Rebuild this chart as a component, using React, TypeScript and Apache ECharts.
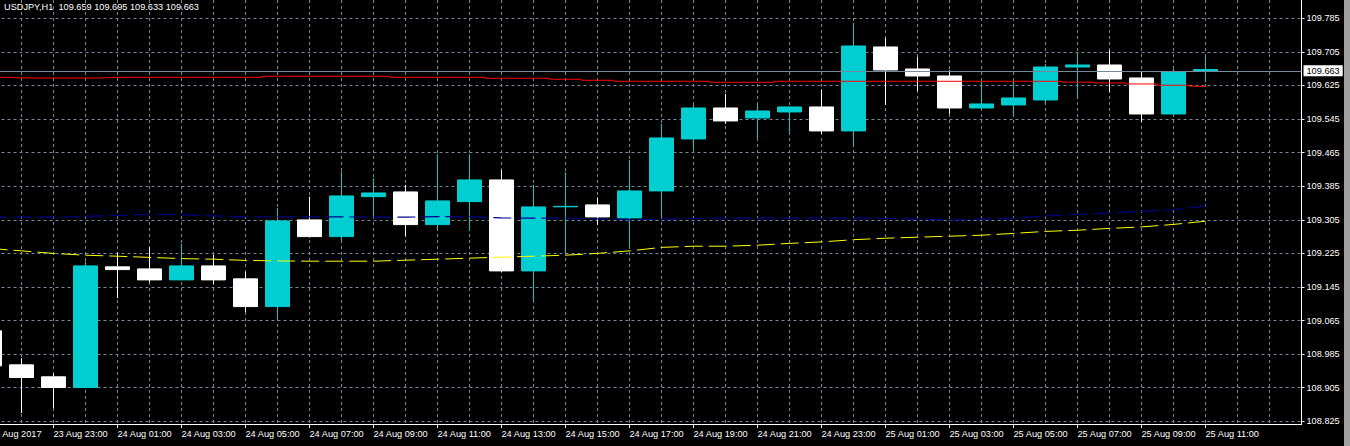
import React, { useEffect, useRef } from 'react';
import * as echarts from 'echarts';

// ---------- data ----------
const timeLabels = [
  '23 Aug 21:00', '23 Aug 22:00', '23 Aug 23:00',
  '24 Aug 00:00', '24 Aug 01:00', '24 Aug 02:00', '24 Aug 03:00', '24 Aug 04:00', '24 Aug 05:00',
  '24 Aug 06:00', '24 Aug 07:00', '24 Aug 08:00', '24 Aug 09:00', '24 Aug 10:00', '24 Aug 11:00',
  '24 Aug 12:00', '24 Aug 13:00', '24 Aug 14:00', '24 Aug 15:00', '24 Aug 16:00', '24 Aug 17:00',
  '24 Aug 18:00', '24 Aug 19:00', '24 Aug 20:00', '24 Aug 21:00', '24 Aug 22:00', '24 Aug 23:00',
  '25 Aug 00:00', '25 Aug 01:00', '25 Aug 02:00', '25 Aug 03:00', '25 Aug 04:00', '25 Aug 05:00',
  '25 Aug 06:00', '25 Aug 07:00', '25 Aug 08:00', '25 Aug 09:00', '25 Aug 10:00', '25 Aug 11:00',
  '25 Aug 12:00', '25 Aug 13:00', '25 Aug 14:00',
];

const opens = [
  109.0405, 108.9595, 108.9310, 108.9055, 109.1929, 109.1881, 109.1619, 109.1952, 109.1643, 109.0983,
  109.3048, 109.2650, 109.3602, 109.3714, 109.2936, 109.3483, 109.4000, 109.1833, 109.3360, 109.3405,
  109.3095, 109.3738, 109.4976, 109.5714, 109.5476, 109.5619, 109.5738, 109.5167, 109.7167, 109.6643,
  109.6476, 109.5714, 109.5786, 109.5905, 109.6690, 109.6738, 109.6429, 109.5571, 109.659,
];
const closes = [
  108.9571, 108.9293, 108.9055, 109.1952, 109.1864, 109.1619, 109.1952, 109.1619, 109.0983, 109.3024,
  109.2650, 109.3619, 109.3690, 109.2936, 109.3500, 109.4000, 109.1833, 109.3357, 109.3370, 109.3119,
  109.3738, 109.5000, 109.5714, 109.5405, 109.5643, 109.5738, 109.5167, 109.7190, 109.6619, 109.6476,
  109.5714, 109.5810, 109.5952, 109.6690, 109.6738, 109.6405, 109.5571, 109.6571, 109.663,
];
const lows = [
  108.9429, 108.8445, 108.8564, 108.9040, 109.1183, 109.1555, 109.1610, 109.1524, 109.0850, 109.0690,
  109.2630, 109.2555, 109.3126, 109.2650, 109.2810, 109.2810, 109.1810, 109.1126, 109.2255, 109.2929,
  109.2412, 109.3126, 109.4714, 109.5333, 109.4976, 109.5143, 109.5095, 109.4840, 109.5786, 109.6119,
  109.5571, 109.5700, 109.5524, 109.5786, 109.5952, 109.6095, 109.5381, 109.5524, 109.633,
];
const highs = [
  109.0619, 108.9755, 108.9381, 109.2055, 109.2269, 109.2398, 109.2476, 109.2214, 109.1810, 109.3326,
  109.3602, 109.4198, 109.4040, 109.3881, 109.4612, 109.4612, 109.4238, 109.3881, 109.4183, 109.3579,
  109.4476, 109.5333, 109.5786, 109.6048, 109.5786, 109.5750, 109.6155, 109.7745, 109.7381, 109.6929,
  109.6612, 109.6340, 109.6340, 109.6762, 109.7024, 109.7095, 109.6595, 109.6667, 109.695,
];

const maRed = [
  109.6445, 109.6429, 109.6429, 109.6429, 109.6445, 109.6445, 109.6445, 109.6445, 109.6445, 109.6469,
  109.6469, 109.6469, 109.6469, 109.6445, 109.6445, 109.6445, 109.6421, 109.6421, 109.6398, 109.6374,
  109.6350, 109.6350, 109.6350, 109.6326, 109.6326, 109.6350, 109.6350, 109.6350, 109.6350, 109.6350,
  109.6350, 109.6350, 109.6350, 109.6350, 109.6329, 109.6310, 109.6286, 109.6255, 109.6231,
];
const maBlue = [
  109.3112, 109.3112, 109.3112, 109.3131, 109.3155, 109.3183, 109.3167, 109.3143, 109.3124, 109.3119,
  109.3119, 109.3119, 109.3112, 109.3112, 109.3126, 109.3126, 109.3095, 109.3088, 109.3088, 109.3071,
  109.3055, 109.3064, 109.3079, 109.3088, 109.3088, 109.3088, 109.3088, 109.3088, 109.3083, 109.3064,
  109.3040, 109.3064, 109.3088, 109.3143, 109.3183, 109.3214, 109.3250, 109.3290, 109.3374,
];
const maYellow = [
  109.2369, 109.2310, 109.2250, 109.2207, 109.2183, 109.2155, 109.2126, 109.2112, 109.2083, 109.2071,
  109.2064, 109.2064, 109.2064, 109.2088, 109.2112, 109.2136, 109.2160, 109.2183, 109.2207, 109.2250,
  109.2310, 109.2393, 109.2421, 109.2421, 109.2445, 109.2488, 109.2524, 109.2576, 109.2612, 109.2636,
  109.2660, 109.2683, 109.2726, 109.2774, 109.2802, 109.2845, 109.2881, 109.2940, 109.3017,
];

const priceTicks = [
  108.825, 108.905, 108.985, 109.065, 109.145, 109.225, 109.305,
  109.385, 109.465, 109.545, 109.625, 109.705, 109.785,
];
const yMin = 108.8186;
const yMax = 109.8286;

const symbolName = 'USDJPY,H1';
const lastQuote = [109.659, 109.695, 109.633, 109.663]; // open high low close
const bidPrice = 109.663;
const chartStartLabel = '23 Aug 2017';

// ---------- styles ----------
const FONT = "'Liberation Sans', Arial, sans-serif";
const FS = 9.2;
const GRID_COLOR = '#778899';
const BULL = '#00CED1';
const BEAR = '#FFFFFF';
const SHIFT = 16; // chart canvas starts this many px left of the visible page

const labelShown = (i: number) => i >= 2 && i % 2 === 0 && i < opens.length;

export default function App() {
  const ref = useRef<HTMLDivElement>(null);

  useEffect(() => {
    document.body.style.margin = '0';
    document.body.style.background = '#000';
    if (!ref.current) return;
    const chart = echarts.init(ref.current, undefined, { renderer: 'svg' });

    const candles = opens.map((o, i) => [o, closes[i], lows[i], highs[i]]);

    chart.setOption({
      animation: false,
      backgroundColor: '#000',
      grid: { left: 5.5, right: 48.5, top: 0, bottom: 22 },
      xAxis: {
        type: 'category',
        data: timeLabels,
        boundaryGap: false,
        axisLine: { show: true, onZero: false, lineStyle: { color: '#fff', width: 1 } },
        axisTick: {
          show: true,
          length: 4,
          inside: false,
          interval: (i: number) => labelShown(i),
          lineStyle: { color: '#fff' },
        },
        axisLabel: {
          show: true,
          interval: (i: number) => labelShown(i),
          align: 'left',
          margin: 5,
          color: '#fff',
          fontFamily: FONT,
          fontSize: FS,
        },
        splitLine: {
          show: true,
          interval: 0,
          lineStyle: { color: GRID_COLOR, type: [3, 3], width: 1 },
        },
      },
      yAxis: {
        type: 'value',
        position: 'right',
        min: yMin,
        max: yMax,
        axisLine: { show: true, lineStyle: { color: '#fff', width: 1 } },
        axisTick: {
          show: true,
          length: 3,
          customValues: priceTicks,
          lineStyle: { color: '#fff' },
        },
        axisLabel: {
          customValues: priceTicks,
          formatter: (v: number) => v.toFixed(3),
          color: '#fff',
          fontFamily: FONT,
          fontSize: FS,
          margin: 5,
        },
        splitLine: {
          show: true,
          lineStyle: { color: GRID_COLOR, type: [3, 3], width: 1 },
        },
      },
      series: [
        {
          type: 'candlestick',
          data: candles,
          barWidth: 24,
          itemStyle: {
            color: BULL,
            color0: BEAR,
            borderColor: BULL,
            borderColor0: BEAR,
            borderWidth: 1,
          },
        },
        {
          type: 'line',
          data: maYellow,
          symbol: 'none',
          lineStyle: { color: '#FFFF00', width: 1, type: [18, 6] },
        },
        {
          type: 'line',
          data: maBlue,
          symbol: 'none',
          lineStyle: { color: '#00008B', width: 1.2, type: [18, 6] },
        },
        {
          type: 'line',
          data: maRed,
          symbol: 'none',
          step: 'middle',
          lineStyle: { color: '#FF0000', width: 1 },
          markLine: {
            silent: true,
            symbol: 'none',
            animation: false,
            data: [{ yAxis: bidPrice }],
            lineStyle: { color: GRID_COLOR, type: 'solid', width: 1 },
            label: {
              show: true,
              position: 'end',
              distance: 2,
              formatter: bidPrice.toFixed(3),
              backgroundColor: '#fff',
              color: '#000',
              padding: [1, 3, 1, 3],
              fontFamily: FONT,
              fontSize: FS,
            },
          },
        },
      ],
      graphic: [
        {
          type: 'text',
          x: SHIFT + 4,
          y: 7,
          style: {
            text: `${symbolName}  ${lastQuote.map((v) => v.toFixed(3)).join(' ')}`,
            fill: '#fff',
            fontFamily: FONT,
            fontSize: FS,
            verticalAlign: 'middle',
            align: 'left',
          },
        },
        {
          type: 'text',
          x: SHIFT + 41.5,
          y: 434,
          style: {
            text: chartStartLabel,
            fill: '#fff',
            fontFamily: FONT,
            fontSize: FS,
            verticalAlign: 'middle',
            align: 'right',
          },
        },
        {
          type: 'rect',
          shape: { x: SHIFT + 1344, y: 0, width: 6, height: 446 },
          style: { fill: '#a0a0a0' },
        },
      ],
    });

    return () => chart.dispose();
  }, []);

  return (
    <div style={{ position: 'relative', width: 1350, height: 446, overflow: 'hidden', background: '#000' }}>
      <div
        ref={ref}
        style={{ position: 'absolute', left: -SHIFT, top: 0, width: 1350 + SHIFT, height: 446 }}
      />
    </div>
  );
}
